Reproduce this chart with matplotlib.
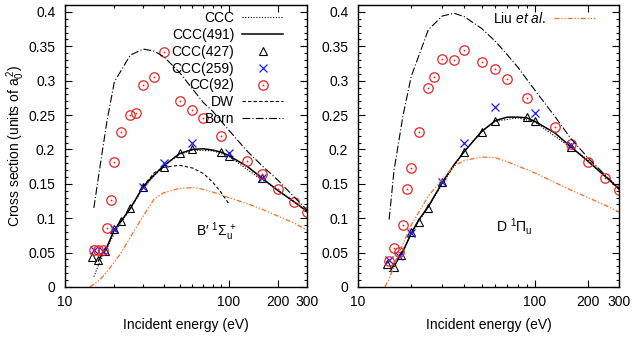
import matplotlib
matplotlib.use("Agg")
import matplotlib.pyplot as plt
from matplotlib.ticker import FixedLocator, FuncFormatter, MultipleLocator

plt.rcParams['font.family'] = ['Liberation Sans', 'DejaVu Sans']
plt.rcParams['mathtext.fontset'] = 'custom'
plt.rcParams['mathtext.rm'] = 'Liberation Sans'
plt.rcParams['mathtext.it'] = 'Liberation Sans:italic'
plt.rcParams['mathtext.bf'] = 'Liberation Sans:bold'
plt.rcParams['font.size'] = 10

# ---------------- data ----------------
# CC(92) energies
E_cc92 = [15, 16, 17, 18, 19, 20, 22, 25, 27, 30, 35, 40, 50, 60, 70, 90, 130, 160, 200, 250, 300]
cc92_B = [0.054, 0.054, 0.054, 0.086, 0.127, 0.182, 0.226, 0.250, 0.253, 0.294, 0.306, 0.342,
          0.270, 0.258, 0.245, 0.220, 0.183, 0.164, 0.142, 0.123, 0.109]
cc92_D = [0.038, 0.056, 0.051, 0.090, 0.142, 0.173, 0.226, 0.289, 0.305, 0.332, 0.330, 0.344,
          0.327, 0.317, 0.303, 0.275, 0.232, 0.208, 0.182, 0.159, 0.141]

# CCC(427) triangles
E_427 = [14.6, 16, 17.6, 20, 22, 25, 30, 40, 50, 60, 90, 100, 160]
ccc427_B = [0.044, 0.039, 0.052, 0.085, 0.096, 0.1145, 0.146, 0.175, 0.1945, 0.200, 0.197, 0.191, 0.158]
ccc427_D = [0.034, 0.029, 0.0465, 0.0805, 0.095, 0.1145, 0.152, 0.197, 0.226, 0.242, 0.247, 0.242, 0.204]

# CCC(259) crosses
E_259 = [15, 17, 20, 30, 40, 60, 100, 160]
ccc259_B = [0.054, 0.052, 0.085, 0.146, 0.181, 0.209, 0.1945, 0.159]
ccc259_D = [0.039, 0.045, 0.079, 0.152, 0.210, 0.262, 0.2525, 0.206]

# CCC(491) solid
E_491 = [16, 17, 18, 20, 22, 25, 30, 35, 40, 50, 60, 70, 80, 90, 100, 130, 160, 200, 250, 300]
ccc491_B = [0.038, 0.050, 0.058, 0.083, 0.096, 0.114, 0.146, 0.163, 0.176, 0.194, 0.200, 0.201,
            0.199, 0.196, 0.191, 0.175, 0.158, 0.140, 0.124, 0.110]
ccc491_D = [0.030, 0.042, 0.052, 0.078, 0.097, 0.117, 0.152, 0.178, 0.197, 0.226, 0.242, 0.247,
            0.247, 0.246, 0.241, 0.224, 0.204, 0.183, 0.161, 0.143]

# CCC dotted
E_ccc = [15, 16, 17, 18, 20, 22, 25, 30, 40, 50, 60, 80, 100, 150, 200, 300]
ccc_B = [0.015, 0.032, 0.045, 0.056, 0.078, 0.094, 0.113, 0.144, 0.176, 0.193, 0.199, 0.198,
         0.190, 0.160, 0.141, 0.110]
ccc_D = [0.022, 0.034, 0.044, 0.054, 0.077, 0.095, 0.116, 0.150, 0.198, 0.226, 0.241, 0.246,
         0.240, 0.208, 0.185, 0.144]

# DW (B' only)
E_dw = [30, 35, 40, 50, 60, 70, 80, 90, 100]
dw_B = [0.146, 0.166, 0.174, 0.177, 0.173, 0.165, 0.152, 0.137, 0.121]

# Born
E_born = [15, 16, 18, 20, 25, 30, 35, 40, 50, 60, 70, 80, 100, 130, 160, 200, 250, 300]
born_B = [0.115, 0.160, 0.240, 0.298, 0.337, 0.346, 0.343, 0.335, 0.312, 0.288, 0.268, 0.255,
          0.228, 0.197, 0.176, 0.155, 0.131, 0.112]
born_D = [0.098, 0.170, 0.250, 0.306, 0.374, 0.394, 0.398, 0.393, 0.376, 0.357, 0.3375, 0.320,
          0.2865, 0.248, 0.216, 0.188, 0.163, 0.142]

# Liu et al.
E_liu = [14.2, 15, 16, 17, 18, 20, 22, 25, 30, 35, 40, 50, 60, 70, 80, 100, 130, 160, 200, 250, 300]
liu_B = [0.0, 0.004, 0.009, 0.015, 0.022, 0.036, 0.050, 0.072, 0.103, 0.128, 0.137, 0.1435,
         0.1445, 0.142, 0.138, 0.130, 0.121, 0.113, 0.103, 0.093, 0.083]
liu_D = [0.0, 0.012, 0.030, 0.049, 0.063, 0.090, 0.108, 0.132, 0.157, 0.176, 0.184, 0.189,
         0.188, 0.182, 0.176, 0.166, 0.152, 0.141, 0.130, 0.119, 0.109]

x_major = [10, 100, 200, 300]
x_minor = [20, 30, 40, 50, 60, 70, 80, 90]

ORANGE = '#ff6a1a'
RED = '#ee2222'
BLUE = '#1a1aff'

fig = plt.figure(figsize=(6.34, 3.42), dpi=100)
axL = fig.add_axes([65/634, 55/342, 242/634, 282/342])
axR = fig.add_axes([358/634, 55/342, 261/634, 282/342])


def draw(ax, ccc, c491, c427, c259, cc92, born, liu, dw=None):
    h = {}
    h['ccc'], = ax.plot(E_ccc, ccc, color='black', lw=0.8, dashes=(1, 1.5))
    h['491'], = ax.plot(E_491, c491, color='black', lw=1.1)
    h['427'], = ax.plot(E_427, c427, ls='none', marker='^', ms=5.5, mfc='none', mec='black', mew=0.8)
    h['259'], = ax.plot(E_259, c259, ls='none', marker='x', ms=6, color=BLUE, mew=0.9)
    c1, = ax.plot(E_cc92, cc92, ls='none', marker='o', ms=6.8, mfc='none', mec=RED, mew=0.9)
    c2, = ax.plot(E_cc92, cc92, ls='none', marker='o', ms=1.3, mfc=RED, mec=RED, mew=0)
    h['cc92'] = (c1, c2)
    if dw is not None:
        h['dw'], = ax.plot(E_dw, dw, color='black', lw=0.8, dashes=(3, 2))
    h['born'], = ax.plot(E_born, born, color='black', lw=0.8, dashes=(7, 2, 1, 2))
    h['liu'], = ax.plot(E_liu, liu, color=ORANGE, lw=0.9, dashes=(4, 1.5, 1, 1.5, 1, 1.5))
    ax.set_xscale('log')
    ax.set_xlim(10, 300)
    ax.set_ylim(0, 0.41)
    ax.xaxis.set_major_locator(FixedLocator(x_major))
    ax.xaxis.set_minor_locator(FixedLocator(x_minor))
    ax.xaxis.set_major_formatter(FuncFormatter(lambda v, p: f"{v:g}"))
    ax.xaxis.set_minor_formatter(FuncFormatter(lambda v, p: ""))
    ax.yaxis.set_major_locator(MultipleLocator(0.05))
    ax.yaxis.set_minor_locator(MultipleLocator(0.01))
    ax.yaxis.set_major_formatter(FuncFormatter(lambda v, p: f"{v:g}"))
    ax.tick_params(which='both', direction='in', top=True, right=True, width=0.8, labelsize=10)
    ax.tick_params(which='major', length=5)
    ax.tick_params(which='minor', length=2.5)
    ax.tick_params(axis='y', pad=7)
    ax.tick_params(axis='x', pad=6)
    for s in ax.spines.values():
        s.set_linewidth(1.0)
    ax.set_xlabel('Incident energy (eV)', fontsize=10, labelpad=6)
    return h


hL = draw(axL, ccc_B, ccc491_B, ccc427_B, ccc259_B, cc92_B, born_B, liu_B, dw=dw_B)
hR = draw(axR, ccc_D, ccc491_D, ccc427_D, ccc259_D, cc92_D, born_D, liu_D)

axL.set_ylabel(r'Cross section (units of a$_0^{\,2}$)', fontsize=10, labelpad=1)

axL.text(0.625, 0.195, "B\u2032 $^1\\Sigma_\\mathrm{u}^{\\,+}$", transform=axL.transAxes,
         ha='center', va='center', fontsize=10)
axR.text(0.598, 0.215, r"D $^1\Pi_\mathrm{u}$", transform=axR.transAxes,
         ha='center', va='center', fontsize=10)


def right_align(leg):
    fig.canvas.draw()
    r = fig.canvas.get_renderer()
    texts = leg.get_texts()
    w = max(t.get_window_extent(r).width for t in texts)
    for t in texts:
        t.set_ha('right')
        t.set_position((w - t.get_window_extent(r).width, 0))


legL = axL.legend([hL['ccc'], hL['491'], hL['427'], hL['259'], hL['cc92'], hL['dw'], hL['born']],
                  ['CCC', 'CCC(491)', 'CCC(427)', 'CCC(259)', 'CC(92)', 'DW', 'Born'],
                  loc='upper right', bbox_to_anchor=(1 - 18/242, 1), frameon=False,
                  markerfirst=False, handlelength=2.9, handletextpad=0.6, labelspacing=0.2,
                  borderpad=0.35, borderaxespad=0.1, fontsize=10)
legR = axR.legend([hR['liu']], [r'Liu $\mathit{et\ al.}$'],
                  loc='upper right', bbox_to_anchor=(1 - 18/261, 1), frameon=False,
                  markerfirst=False, handlelength=2.9, handletextpad=0.6,
                  borderpad=0.35, borderaxespad=0.1, fontsize=10)

fig.savefig('out.png', dpi=100)
